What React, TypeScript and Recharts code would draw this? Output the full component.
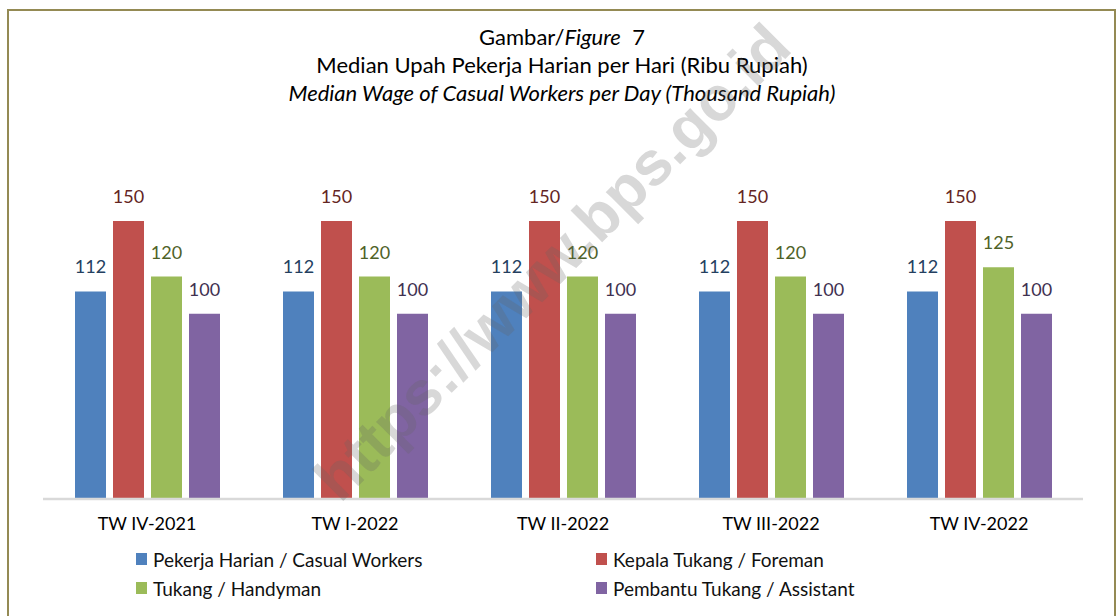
import React from 'react';
import { BarChart, Bar, XAxis, YAxis, Legend, LabelList } from 'recharts';

const periods = ['TW IV-2021', 'TW I-2022', 'TW II-2022', 'TW III-2022', 'TW IV-2022'];
const casualWorkers = [112, 112, 112, 112, 112];
const foreman = [150, 150, 150, 150, 150];
const handyman = [120, 120, 120, 120, 125];
const assistant = [100, 100, 100, 100, 100];

const seriesNames = [
  'Pekerja Harian / Casual Workers',
  'Kepala Tukang / Foreman',
  'Tukang / Handyman',
  'Pembantu Tukang / Assistant',
];
const seriesColors = ['#4f81bd', '#c0504d', '#9bbb59', '#8064a2'];
const labelColors = ['#243f60', '#632523', '#4f6228', '#3f3151'];
const seriesKeys = ['casual', 'foreman', 'handyman', 'assistant'];

const data = periods.map((p, i) => ({
  period: p,
  casual: casualWorkers[i],
  foreman: foreman[i],
  handyman: handyman[i],
  assistant: assistant[i],
}));

const FONT = 'Lato, "Open Sans", sans-serif';

const legendSlots = [
  { left: 136, top: 6 },
  { left: 596, top: 6 },
  { left: 136, top: 35 },
  { left: 596, top: 35 },
];

const LegendContent = (props: any) => {
  const payload = props.payload || [];
  const ordered = seriesNames.map((n, i) => {
    const e = payload.find((p: any) => p.value === n);
    return { value: n, color: e ? e.color : seriesColors[i] };
  });
  return (
    <div style={{ position: 'relative', width: 1118, height: 70, fontFamily: FONT }}>
      {ordered.map((entry: any, i: number) => {
        const slot = legendSlots[i];
        return (
          <div
            key={i}
            style={{
              position: 'absolute',
              left: slot.left,
              top: slot.top,
              height: 28,
              display: 'flex',
              alignItems: 'center',
              whiteSpace: 'nowrap',
            }}
          >
            <span
              style={{
                display: 'inline-block',
                width: 11,
                height: 12,
                background: entry.color,
                marginRight: 6,
              }}
            />
            <span style={{ fontSize: 19, color: '#111' }}>{entry.value}</span>
          </div>
        );
      })}
    </div>
  );
};

export default function App() {
  return (
    <div
      style={{
        position: 'absolute',
        left: 0,
        top: 0,
        width: 1118,
        height: 616,
        overflow: 'hidden',
        background: '#fff',
      }}
    >
      <div
        style={{
          position: 'absolute',
          left: 7,
          top: 9,
          width: 1109,
          height: 640,
          border: '2px solid #948a54',
          boxSizing: 'border-box',
        }}
      />
      <div
        style={{
          position: 'absolute',
          left: 0,
          width: 1124,
          top: 23,
          textAlign: 'center',
          fontFamily: FONT,
          color: '#000',
          fontSize: 22,
          lineHeight: '27.5px',
        }}
      >
        <div>
          Gambar/<i>Figure</i>&nbsp; 7
        </div>
        <div>Median Upah Pekerja Harian per Hari (Ribu Rupiah)</div>
        <div style={{ fontStyle: 'italic', marginTop: 1 }}>
          Median Wage of Casual Workers per Day (Thousand Rupiah)
        </div>
      </div>
      <div style={{ position: 'absolute', left: 0, top: 0 }}>
        <BarChart
          width={1118}
          height={616}
          data={data}
          margin={{ top: 221, right: 35, left: 43, bottom: 7 }}
          barSize={31}
          barGap={7}
        >
          <XAxis
            dataKey="period"
            interval={0}
            tickLine={false}
            axisLine={{ stroke: '#d9d9d9', strokeWidth: 2.5 }}
            tick={{ fill: '#000', fontSize: 18, fontFamily: FONT }}
            tickMargin={12}
            height={40}
          />
          <YAxis hide domain={[0, 150]} />
          <Legend
            verticalAlign="bottom"
            content={<LegendContent />}
            wrapperStyle={{ left: 0, width: 1118 }}
          />
          {seriesKeys.map((k, i) => (
            <Bar
              key={k}
              dataKey={k}
              name={seriesNames[i]}
              fill={seriesColors[i]}
              isAnimationActive={false}
            >
              <LabelList
                dataKey={k}
                position="top"
                offset={18}
                fill={labelColors[i]}
                style={{ fontSize: 18, fontFamily: FONT }}
              />
            </Bar>
          ))}
        </BarChart>
      </div>
      <div
        style={{
          position: 'absolute',
          left: 552,
          top: 262,
          transform: 'translate(-50%, -50%) rotate(-45deg)',
          fontFamily: '"Liberation Sans", Arial, sans-serif',
          fontWeight: 'bold',
          fontSize: 62,
          color: 'rgba(100,100,100,0.25)',
          whiteSpace: 'nowrap',
          pointerEvents: 'none',
        }}
      >
        https://www.bps.go.id
      </div>
    </div>
  );
}
